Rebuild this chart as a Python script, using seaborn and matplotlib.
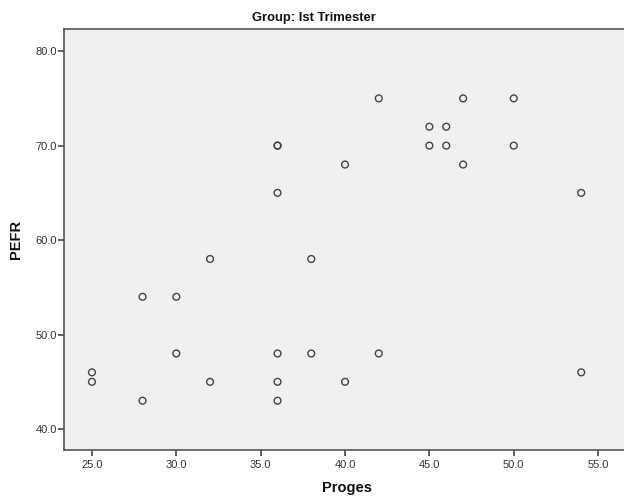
import matplotlib
matplotlib.use("Agg")
import matplotlib.pyplot as plt
from matplotlib import font_manager
from matplotlib.ticker import FormatStrFormatter
import seaborn as sns
import pandas as pd

# Data
proges = [25, 25, 28, 28, 30, 30, 32, 32, 36, 36, 36, 36, 36, 36,
          38, 38, 40, 40, 42, 42, 45, 45, 46, 46, 47, 47, 50, 50, 54, 54]
pefr = [46, 45, 54, 43, 54, 48, 58, 45, 70, 70, 65, 48, 45, 43,
        58, 48, 68, 45, 75, 48, 72, 70, 72, 70, 75, 68, 75, 70, 65, 46]
x_ticks = [25, 30, 35, 40, 45, 50, 55]
y_ticks = [40, 50, 60, 70, 80]
title = "Group: Ist Trimester"
x_label = "Proges"
y_label = "PEFR"

df = pd.DataFrame({"Proges": proges, "PEFR": pefr})

sns.set_style("white")
available = {f.name for f in font_manager.fontManager.ttflist}
base_font = "Liberation Sans" if "Liberation Sans" in available else "DejaVu Sans"
plt.rcParams["font.family"] = [base_font, "DejaVu Sans"]

fig = plt.figure(figsize=(6.24, 4.96), dpi=100)
# right edge of the frame lies just beyond the image edge, as in the reference
ax = fig.add_axes([0.103, 0.0927, 0.902, 0.848])
ax.set_facecolor("#f0f0f0")

sns.scatterplot(data=df, x="Proges", y="PEFR", ax=ax, marker="o",
                s=24, facecolor="none", edgecolor="#444444", linewidth=1.0)

ax.set_xlim(23.36, 56.72)
ax.set_ylim(37.78, 82.3)
ax.set_xticks(x_ticks)
ax.set_yticks(y_ticks)
ax.xaxis.set_major_formatter(FormatStrFormatter("%.1f"))
ax.yaxis.set_major_formatter(FormatStrFormatter("%.1f"))

for side in ["left", "bottom", "top", "right"]:
    ax.spines[side].set_visible(True)
    ax.spines[side].set_color("#555555")
    ax.spines[side].set_linewidth(1.2)

ax.tick_params(axis="both", which="major", bottom=True, left=True,
               top=False, right=False, direction="out", length=4.5, width=1.2,
               color="#444444", labelsize=8, labelcolor="#333333")
ax.tick_params(axis="y", pad=1)
ax.tick_params(axis="x", pad=3)

ax.set_xlabel(x_label, fontsize=10.5, fontweight="bold", color="#111111")
ax.set_ylabel(y_label, fontsize=10.5, fontweight="bold", color="#111111")
ax.xaxis.set_label_coords(0.503, -0.0903)
ax.yaxis.set_label_coords(-0.0863, 0.5)
ax.xaxis.label.set_va("center")
ax.yaxis.label.set_va("center")

fig.text(0.503, 0.9647, title, ha="center", va="center",
         fontsize=9.4, fontweight="bold", color="#111111")

fig.savefig("out.png", dpi=100)
